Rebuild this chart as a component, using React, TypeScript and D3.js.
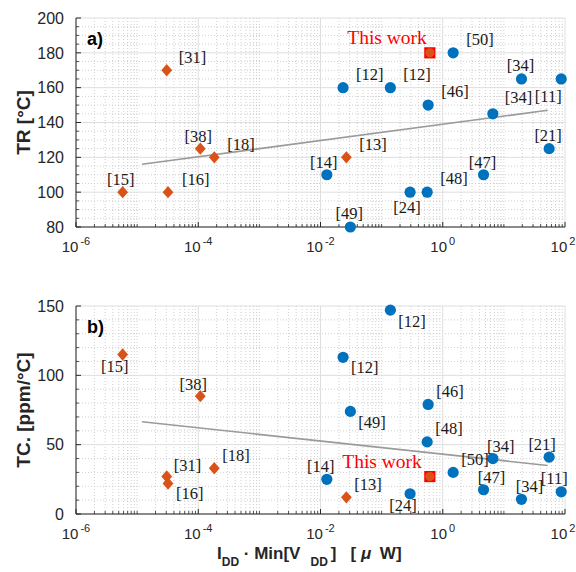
import React, { useEffect, useRef } from 'react';
import * as d3 from 'd3';

const W = 576;
const H = 572;

// blue circles (other works)
const circleRefs = ['[14]', '[12]', '[12]', '[49]', '[24]', '[48]', '[46]', '[50]', '[47]', '[34]', '[34]', '[21]', '[11]'];
const circlePower = [0.0127, 0.0234, 0.139, 0.0308, 0.292, 0.556, 0.577, 1.48, 4.65, 6.6, 19.4, 55, 86.7];
const circleTR = [110, 160, 160, 80, 100, 100, 150, 180, 110, 145, 165, 125, 165];
const circleTC = [25, 113, 147, 74, 14.6, 52, 79, 30, 17.5, 40, 10.6, 41, 16];

// orange diamonds (other works)
const diamondRefs = ['[15]', '[31]', '[16]', '[38]', '[18]', '[13]'];
const diamondPower = [5.8e-6, 3.05e-5, 3.2e-5, 1.08e-4, 1.83e-4, 0.0265];
const diamondTR = [100, 170, 100, 125, 120, 120];
const diamondTC = [115, 27, 22, 85, 33, 12];

// this work
const thisWorkPower = [0.615];
const thisWorkTR = [180];
const thisWorkTC = [27];

// fitted trend lines
const trendPower = [1.2e-5, 52];
const trendTR = [116, 147];
const trendTC = [66.5, 35];

const xTickExp = [-6, -4, -2, 0, 2];
const trTicks = [80, 100, 120, 140, 160, 180, 200];
const tcTicks = [0, 50, 100, 150];

// label placement [dx, dy, anchor] per point, per panel
type Off = [number, number, string];
const circleOffTR: Off[] = [[-3, -7, 'middle'], [13, -8, 'start'], [13, -8, 'start'], [-1, -8, 'middle'], [-3, 21, 'middle'], [13, -8, 'start'], [13, -8, 'start'], [13, -8, 'start'], [-1, -7, 'middle'], [12, -11, 'start'], [-1, -8, 'middle'], [-1, -8, 'middle'], [-13, 23, 'middle']];
const diamondOffTR: Off[] = [[-2, -7, 'middle'], [12, -7, 'start'], [14, -7, 'start'], [-2, -7, 'middle'], [13, -7, 'start'], [13, -7, 'start']];
const circleOffTC: Off[] = [[-6, -7, 'middle'], [8, 16, 'start'], [8, 17, 'start'], [8, 17, 'start'], [-7, 17, 'middle'], [8, -8, 'start'], [8, -7, 'start'], [8, -7, 'start'], [8, -7, 'middle'], [8, -7, 'middle'], [8, -7, 'middle'], [-7, -7, 'middle'], [-7, -8, 'middle']];
const diamondOffTC: Off[] = [[-8, 17, 'middle'], [7, -6, 'start'], [8, 16, 'start'], [-7, -6, 'middle'], [8, -7, 'start'], [8, -7, 'start']];

const BLUE = '#0072BD';
const ORANGE = '#D95319';
const SANS = '"Liberation Sans", Arial, Helvetica, sans-serif';
const SERIF = '"Liberation Serif", "Times New Roman", serif';

const App: React.FC = () => {
  const svgRef = useRef<SVGSVGElement>(null);

  useEffect(() => {
    if (!svgRef.current) return;
    const svg = d3.select(svgRef.current);
    svg.selectAll('*').remove();

    const left = 76;
    const right = 565;
    const x = d3.scaleLog().domain([1e-6, 1e2]).range([left, right]);

    const drawPanel = (opts: {
      top: number; bottom: number; domain: [number, number]; ticks: number[]; minorStep: number;
      cY: number[]; dY: number[]; twY: number[]; trendY: number[];
      cOff: Off[]; dOff: Off[]; twOff: Off; tag: string; ylabel: string;
    }) => {
      const y = d3.scaleLinear().domain(opts.domain).range([opts.bottom, opts.top]);
      const g = svg.append('g');

      // minor grid (dotted)
      const minorX: number[] = [];
      for (let e = -6; e < 2; e++) for (let m = 1; m <= 9; m++) {
        const v = m * Math.pow(10, e);
        if (m === 1 && e % 2 === 0) continue;
        minorX.push(v);
      }
      const minorY = d3.range(opts.domain[0], opts.domain[1] + 0.01, opts.minorStep).filter(v => !opts.ticks.includes(v));

      g.selectAll('.mgx').data(minorX).enter().append('line')
        .attr('x1', d => x(d)).attr('x2', d => x(d))
        .attr('y1', opts.top).attr('y2', opts.bottom)
        .attr('stroke', '#c4c4c4').attr('stroke-width', 0.8).attr('stroke-dasharray', '1,2');
      g.selectAll('.mgy').data(minorY).enter().append('line')
        .attr('x1', left).attr('x2', right)
        .attr('y1', d => y(d)).attr('y2', d => y(d))
        .attr('stroke', '#c4c4c4').attr('stroke-width', 0.8).attr('stroke-dasharray', '1,2');

      // major grid
      g.selectAll('.gx').data(xTickExp).enter().append('line')
        .attr('x1', d => x(Math.pow(10, d))).attr('x2', d => x(Math.pow(10, d)))
        .attr('y1', opts.top).attr('y2', opts.bottom)
        .attr('stroke', '#dedede').attr('stroke-width', 1);
      g.selectAll('.gy').data(opts.ticks).enter().append('line')
        .attr('x1', left).attr('x2', right)
        .attr('y1', d => y(d)).attr('y2', d => y(d))
        .attr('stroke', '#dedede').attr('stroke-width', 1);

      // axes lines and ticks
      g.append('line').attr('x1', left).attr('x2', left).attr('y1', opts.top).attr('y2', opts.bottom)
        .attr('stroke', '#262626').attr('stroke-width', 1);
      g.append('line').attr('x1', left).attr('x2', right).attr('y1', opts.bottom).attr('y2', opts.bottom)
        .attr('stroke', '#262626').attr('stroke-width', 1);
      g.selectAll('.tx').data(xTickExp).enter().append('line')
        .attr('x1', d => x(Math.pow(10, d))).attr('x2', d => x(Math.pow(10, d)))
        .attr('y1', opts.bottom).attr('y2', opts.bottom - 5)
        .attr('stroke', '#262626');
      g.selectAll('.mtx').data(minorX).enter().append('line')
        .attr('x1', d => x(d)).attr('x2', d => x(d))
        .attr('y1', opts.bottom).attr('y2', opts.bottom - 3)
        .attr('stroke', '#262626').attr('stroke-width', 0.8);
      g.selectAll('.ty').data(opts.ticks).enter().append('line')
        .attr('x1', left).attr('x2', left + 5)
        .attr('y1', d => y(d)).attr('y2', d => y(d))
        .attr('stroke', '#262626');
      g.selectAll('.mty').data(minorY).enter().append('line')
        .attr('x1', left).attr('x2', left + 3)
        .attr('y1', d => y(d)).attr('y2', d => y(d))
        .attr('stroke', '#262626').attr('stroke-width', 0.8);

      // tick labels
      g.selectAll('.yl').data(opts.ticks).enter().append('text')
        .attr('x', left - 12).attr('y', d => y(d)).attr('dy', '0.36em')
        .attr('text-anchor', 'end').attr('font-family', SANS).attr('font-size', 16).attr('fill', '#262626')
        .text(d => d);
      const xl = g.selectAll('.xl').data(xTickExp).enter().append('text')
        .attr('x', d => x(Math.pow(10, d)) - (d === 2 ? 2 : 0)).attr('y', opts.bottom + 25)
        .attr('text-anchor', 'middle').attr('font-family', SANS).attr('font-size', 15).attr('fill', '#262626');
      xl.append('tspan').text('10');
      xl.append('tspan').attr('dx', 2).attr('dy', -7).attr('font-size', 11).text(d => `${d}`);

      // trend line
      g.append('path')
        .datum(trendPower.map((p, i) => [p, opts.trendY[i]] as [number, number]))
        .attr('d', d3.line<[number, number]>().x(d => x(d[0])).y(d => y(d[1])))
        .attr('stroke', '#9a9a9a').attr('stroke-width', 1.6).attr('fill', 'none');

      // diamonds
      const diamond = (s: number, h: number) => `M0,${-h}L${s},0L0,${h}L${-s},0Z`;
      g.selectAll('.dm').data(diamondPower).enter().append('path')
        .attr('transform', (d, i) => `translate(${x(d)},${y(opts.dY[i])})`)
        .attr('d', diamond(5.4, 6.2)).attr('fill', ORANGE);

      // circles
      g.selectAll('.cc').data(circlePower).enter().append('circle')
        .attr('cx', d => x(d)).attr('cy', (d, i) => y(opts.cY[i]))
        .attr('r', 5.6).attr('fill', BLUE);

      // this work
      g.selectAll('.tw').data(thisWorkPower).enter().append('rect')
        .attr('x', d => x(d) - 5.6).attr('y', (d, i) => y(opts.twY[i]) - 5.6)
        .attr('width', 11.2).attr('height', 11.2).attr('fill', '#FF0000');
      g.selectAll('.twc').data(thisWorkPower).enter().append('circle')
        .attr('cx', d => x(d)).attr('cy', (d, i) => y(opts.twY[i]))
        .attr('r', 4.6).attr('fill', ORANGE);

      // point labels
      const lbl = (px: number[], py: number[], txt: string[], off: Off[]) => {
        g.selectAll(null).data(px).enter().append('text')
          .attr('x', (d, i) => x(d) + off[i][0]).attr('y', (d, i) => y(py[i]) + off[i][1])
          .attr('text-anchor', (d, i) => off[i][2])
          .attr('font-family', SERIF).attr('font-size', 16.5).attr('fill', '#1a1a1a')
          .text((d, i) => txt[i]);
      };
      lbl(circlePower, opts.cY, circleRefs, opts.cOff);
      lbl(diamondPower, opts.dY, diamondRefs, opts.dOff);
      g.append('text')
        .attr('x', x(thisWorkPower[0]) + opts.twOff[0]).attr('y', y(opts.twY[0]) + opts.twOff[1])
        .attr('text-anchor', opts.twOff[2])
        .attr('font-family', SERIF).attr('font-size', 19.5).attr('fill', '#FF0000')
        .text('This work');

      // panel tag
      g.append('text').attr('x', 87).attr('y', opts.top + 27)
        .attr('font-family', SANS).attr('font-weight', 'bold').attr('font-size', 18).attr('fill', '#000')
        .text(opts.tag);

      // y label
      const cy = (opts.top + opts.bottom) / 2;
      g.append('text')
        .attr('transform', `translate(30,${cy}) rotate(-90)`)
        .attr('text-anchor', 'middle')
        .attr('font-family', SANS).attr('font-weight', 'bold').attr('font-size', 19).attr('fill', '#262626')
        .text(opts.ylabel);
    };

    drawPanel({
      top: 18, bottom: 227, domain: [80, 200], ticks: trTicks, minorStep: 5,
      cY: circleTR, dY: diamondTR, twY: thisWorkTR, trendY: trendTR,
      cOff: circleOffTR, dOff: diamondOffTR, twOff: [-3, -9, 'end'], tag: 'a)', ylabel: 'TR [°C]'
    });
    drawPanel({
      top: 306, bottom: 514, domain: [0, 150], ticks: tcTicks, minorStep: 10,
      cY: circleTC, dY: diamondTC, twY: thisWorkTC, trendY: trendTC,
      cOff: circleOffTC, dOff: diamondOffTC, twOff: [-8, -9, 'end'], tag: 'b)', ylabel: 'TC. [ppm/°C]'
    });

    // x axis title
    const t = svg.append('text').attr('x', 217).attr('y', 559)
      .attr('font-family', SANS).attr('font-weight', 'bold').attr('font-size', 17).attr('fill', '#262626');
    t.append('tspan').text('I');
    t.append('tspan').attr('dy', 7).attr('font-size', 12).text('DD');
    t.append('tspan').attr('dy', -7).text(' · Min[V');
    t.append('tspan').attr('dx', 10).attr('dy', 7).attr('font-size', 12).text('DD');
    t.append('tspan').attr('dy', -7).attr('dx', 3).text(']');
    t.append('tspan').attr('dx', 14).text('[ ');
    t.append('tspan').attr('font-style', 'italic').text('μ');
    t.append('tspan').attr('dx', 4).text(' W]');
  }, []);

  return (
    <div style={{ position: 'absolute', left: 0, top: 0, width: W, height: H, background: '#fff' }}>
      <svg ref={svgRef} width={W} height={H} style={{ display: 'block' }} />
    </div>
  );
};

export default App;
